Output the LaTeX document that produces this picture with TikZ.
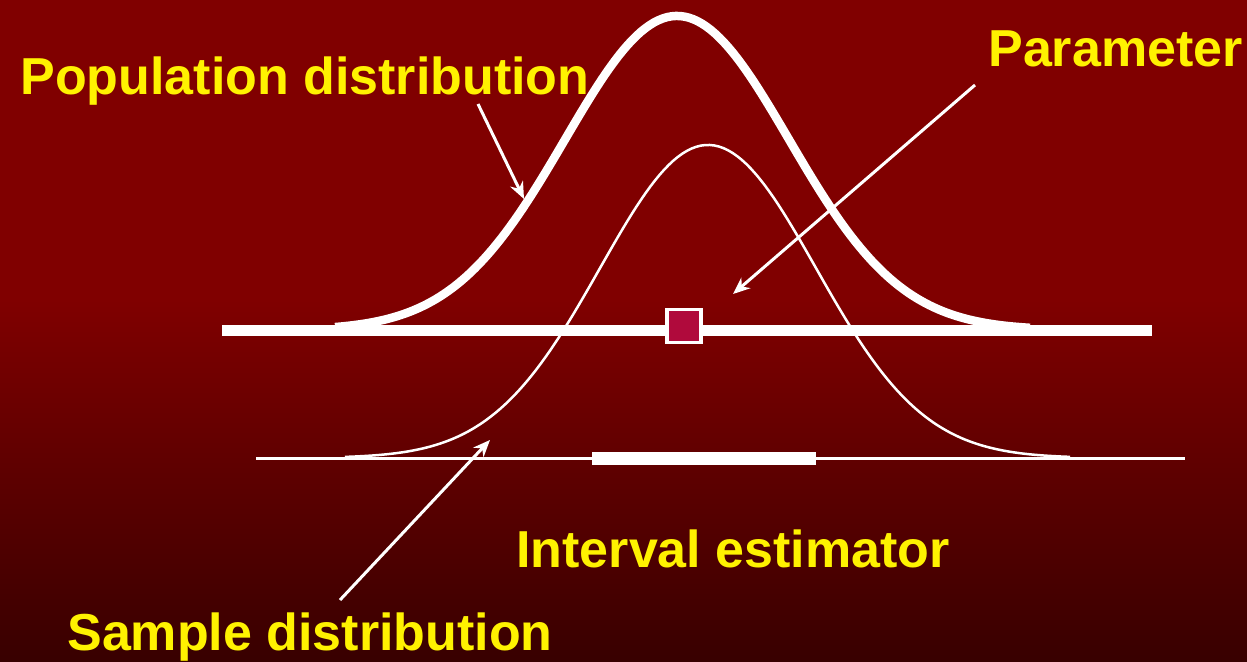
\documentclass[tikz,border=0pt]{standalone}
\usepackage{fontspec}
\setmainfont{Liberation Sans}
\usetikzlibrary{arrows.meta}
\definecolor{bgtop}{HTML}{800000}
\definecolor{bgbot}{HTML}{380000}
\definecolor{labelyellow}{HTML}{FFF200}
\definecolor{crimson}{HTML}{B00A3C}
\tikzset{
  lbl/.style={text=labelyellow, font=\bfseries\fontsize{29.6pt}{32pt}\selectfont, inner sep=0pt, anchor=base west},
  pointer/.style={draw=white, line width=0.06cm, -{Stealth[length=0.34cm,width=0.28cm]}},
  thickcurve/.style={draw=white, line width=0.17cm, line join=round},
  thincurve/.style={draw=white, line width=0.05cm},
}
\begin{document}
\begin{tikzpicture}[x=0.02cm,y=-0.02cm]
\useasboundingbox (0,0) rectangle (1247,662);
% background
\fill[bgtop] (0,0) rectangle (1247,300);
\shade[top color=bgtop, bottom color=bgbot] (0,299) rectangle (1247,662);
% sample distribution curve
\draw[thincurve] plot[domain=345:1070, samples=160] (\x, {458-313*exp(-0.5*((\x-708)/108)^2)});
% lower axis and interval bar
\draw[draw=white, line width=0.06cm] (256,458) coordinate (la) -- (1185,458) coordinate (lb);
\draw[draw=white, line width=0.26cm] (592,458) coordinate (ia) -- (816,458) coordinate (ib);
% upper axis
\draw[draw=white, line width=0.22cm] (222,330) coordinate (ua) -- (1152,330) coordinate (ub);
% population curve
\draw[thickcurve] plot[domain=335:1030, samples=160] (\x, {330-314*exp(-0.5*((\x-677)/112)^2)});
% parameter square
\node[draw=white, fill=crimson, line width=0.07cm, minimum width=0.68cm, minimum height=0.66cm, inner sep=0pt] (param) at (684,326) {};
% labels
\node[lbl] (pop) at (20,95) {Population distribution};
\node[lbl] (par) at (988,67) {Parameter};
\node[lbl] (int) at (516,567) {Interval estimator};
\node[lbl] (smp) at (67,650) {Sample distribution};
% arrow endpoints
\coordinate (p1) at (478,104);
\coordinate (h1) at (524,199);
\coordinate (p2) at (975,85);
\coordinate (h2) at (733,294);
\coordinate (p3) at (340,600);
\coordinate (h3) at (490,440);
\draw[pointer] (p1) -- (h1);
\draw[pointer] (p2) -- (h2);
\draw[pointer] (p3) -- (h3);
\end{tikzpicture}
\end{document}
